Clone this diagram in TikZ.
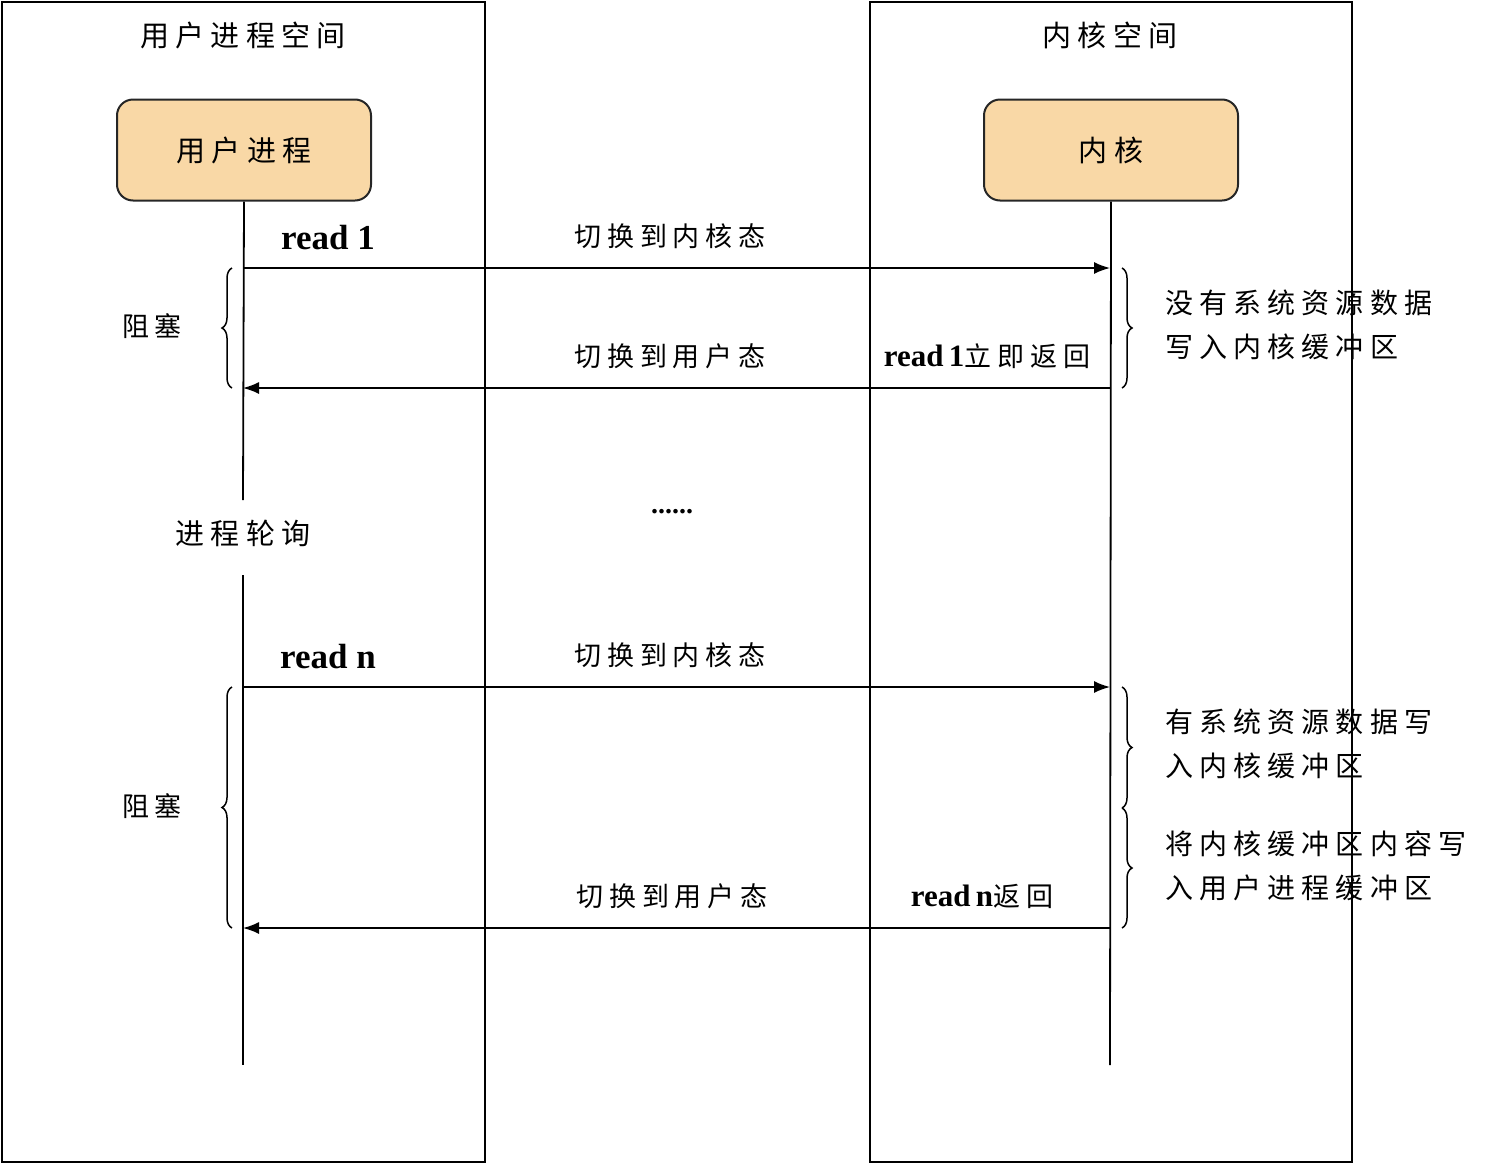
\documentclass[tikz,border=0pt]{standalone}
\usepackage{fontspec}
\newfontfamily\cjk[LetterSpace=22]{Noto Sans CJK SC}
\newfontfamily\rd{Liberation Serif}
\usetikzlibrary{arrows.meta,decorations.pathreplacing}
\definecolor{actfill}{RGB}{249,216,166}
\begin{document}
\begin{tikzpicture}[x=1pt,y=-1pt,
  lbl/.style={font=\cjk\fontsize{27}{32}\selectfont,inner sep=0pt},
  ttl/.style={font=\cjk\fontsize{29}{34}\selectfont,inner sep=0pt},
  rdl/.style={font=\rd\bfseries\fontsize{35}{38}\selectfont,inner sep=0pt},
  actor/.style={draw=black!85,line width=2pt,rounded corners=16pt,fill=actfill,minimum width=254pt,minimum height=101pt,font=\cjk\fontsize{29}{34}\selectfont},
  msg/.style={line width=1.6pt,-{Latex[length=16pt,width=12pt]}},
  br/.style={line width=1.5pt,decorate,decoration={brace,amplitude=10pt}},
  life/.style={line width=1.8pt}]
\useasboundingbox (0,0) rectangle (1512,1165);
\draw[line width=1.6pt] (2,2) rectangle (485,1162);
\draw[line width=1.6pt] (870,2) rectangle (1352,1162);
\node[ttl] (t1) at (243,35) {用户进程空间};
\node[ttl] (t2) at (1110,35) {内核空间};
\node[actor] (up) at (244,150) {用户进程};
\node[actor] (kn) at (1111,150) {内核};
\node[ttl] (poll) at (243,533) {进程轮询};
\coordinate (ue) at (243,1065);
\coordinate (ke) at (1110,1065);
\draw[life] (up.south) -- (243,500);
\draw[life] (243,575) -- (ue);
\draw[life] (kn.south) -- (ke);
\coordinate (a1) at (243,268); \coordinate (b1) at (1110,268);
\coordinate (a2) at (243,388); \coordinate (b2) at (1110,388);
\coordinate (a3) at (243,687); \coordinate (b3) at (1110,687);
\coordinate (a4) at (243,928); \coordinate (b4) at (1110,928);
\draw[msg] (a1) -- (b1);
\draw[msg] (b2) -- (a2);
\draw[msg] (a3) -- (b3);
\draw[msg] (b4) -- (a4);
\node[rdl] (r1) at (328,238) {read 1};
\node[rdl] (rn) at (328,657) {read n};
\node[lbl] (m1) at (670,236) {切换到内核态};
\node[lbl] (m2) at (670,356) {切换到用户态};
\node[lbl] (m3) at (670,655) {切换到内核态};
\node[lbl] (m4) at (672,896) {切换到用户态};
\node[lbl] (r1r) at (987,356) {{\rd\bfseries\fontsize{31}{34}\selectfont read\,1}立即返回};
\node[lbl] (rnr) at (982,896) {{\rd\bfseries\fontsize{31}{34}\selectfont read\,n}返回};
\node[font=\rd\bfseries\fontsize{28}{28}\selectfont] (dots) at (672,512) {......};
\draw[br] (232,388) -- (232,268);
\draw[br] (232,928) -- (232,687);
\node[lbl] (z1) at (152,326) {阻塞};
\node[lbl] (z2) at (152,806) {阻塞};
\draw[br] (1122,268) -- (1122,388);
\draw[br] (1122,687) -- (1122,808);
\draw[br] (1122,808) -- (1122,928);
\node[lbl,anchor=west,align=left,font=\cjk\fontsize{28}{44}\selectfont] (n1) at (1165,325) {没有系统资源数据\\写入内核缓冲区};
\node[lbl,anchor=west,align=left,font=\cjk\fontsize{28}{44}\selectfont] (n2) at (1165,744) {有系统资源数据写\\入内核缓冲区};
\node[lbl,anchor=west,align=left,font=\cjk\fontsize{28}{44}\selectfont] (n3) at (1165,866) {将内核缓冲区内容写\\入用户进程缓冲区};
\end{tikzpicture}
\end{document}
